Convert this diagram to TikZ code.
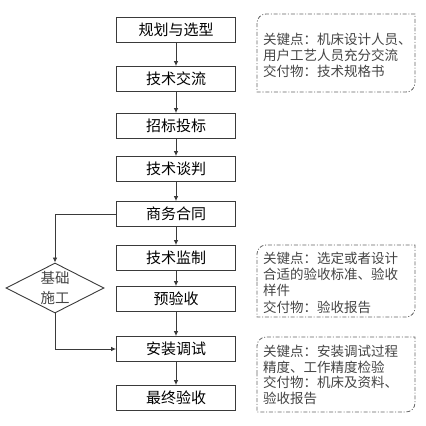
\documentclass[tikz,border=0pt]{standalone}
\usepackage{fontspec}
\newfontfamily\cjk{Noto Sans CJK SC}
\usetikzlibrary{shapes.geometric,arrows.meta}
\definecolor{linec}{HTML}{3A3A3A}
\definecolor{notec}{HTML}{444444}
\tikzset{
  stepbox/.style={draw=linec, line width=0.9pt, minimum width=119pt, minimum height=25pt, inner sep=0pt,
    font=\cjk\fontsize{15}{17}\selectfont, text=black},
  dia/.style={draw=linec, line width=0.9pt, shape=diamond, aspect=2, minimum width=98pt, minimum height=50pt, inner sep=0pt,
    font=\cjk\fontsize{14.5}{20}\selectfont, text=notec, align=center},
  arr/.style={draw=linec, line width=0.8pt, -{Latex[length=5pt,width=4.5pt]}},
  notebox/.style={draw=gray!80!black, line width=0.8pt, dash pattern=on 4pt off 1.8pt on 1pt off 1.8pt},
  notetext/.style={font=\cjk\fontsize{13.5}{16}\selectfont, text=notec, align=left, inner sep=0pt, anchor=west}
}
\begin{document}
\begin{tikzpicture}[x=1pt,y=-1pt]
\useasboundingbox (0,0) rectangle (426,426);
\node[stepbox] (n1) at (176,30) {规划与选型};
\node[stepbox] (n2) at (176,79) {技术交流};
\node[stepbox] (n3) at (176,126) {招标投标};
\node[stepbox] (n4) at (176,169) {技术谈判};
\node[stepbox] (n5) at (176,214) {商务合同};
\node[stepbox] (n6) at (176,258) {技术监制};
\node[stepbox] (n7) at (176,299) {预验收};
\node[stepbox] (n8) at (176,349) {安装调试};
\node[stepbox] (n9) at (176,398) {最终验收};
\node[dia] (d) at (55,288) {基础\\施工};
\draw[arr] (n1) -- (n2);
\draw[arr] (n2) -- (n3);
\draw[arr] (n3) -- (n4);
\draw[arr] (n4) -- (n5);
\draw[arr] (n5) -- (n6);
\draw[arr] (n6) -- (n7);
\draw[arr] (n7) -- (n8);
\draw[arr] (n8) -- (n9);
\draw[arr] (n5.west) -| (d.north);
\draw[arr] (d.south) |- (n8.west);
% note boxes
\draw[notebox] (257,53) [rounded corners=9pt] -- (257,14) -- (336,14) [sharp corners] -- (415,14) -- (415,53) [rounded corners=9pt] -- (415,92) -- (336,92) [sharp corners] -- (257,92) -- cycle;
\node[notetext] (t1) at (263,55) {关键点：机床设计人员、\\用户工艺人员充分交流\\交付物：技术规格书};
\draw[notebox] (257,281) [rounded corners=9pt] -- (257,245) -- (336,245) [sharp corners] -- (415,245) -- (415,281) [rounded corners=9pt] -- (415,317) -- (336,317) [sharp corners] -- (257,317) -- cycle;
\node[notetext, font=\cjk\fontsize{13.5}{16.3}\selectfont] (t2) at (263,282.5) {关键点：选定或者设计\\合适的验收标准、验收\\样件\\交付物：验收报告};
\draw[notebox] (257,374) [rounded corners=9pt] -- (257,337) -- (336,337) [sharp corners] -- (415,337) -- (415,374) [rounded corners=9pt] -- (415,412) -- (336,412) [sharp corners] -- (257,412) -- cycle;
\node[notetext, font=\cjk\fontsize{13.5}{15.4}\selectfont] (t3) at (263,375) {关键点：安装调试过程\\精度、工作精度检验\\交付物：机床及资料、\\验收报告};
\end{tikzpicture}
\end{document}
